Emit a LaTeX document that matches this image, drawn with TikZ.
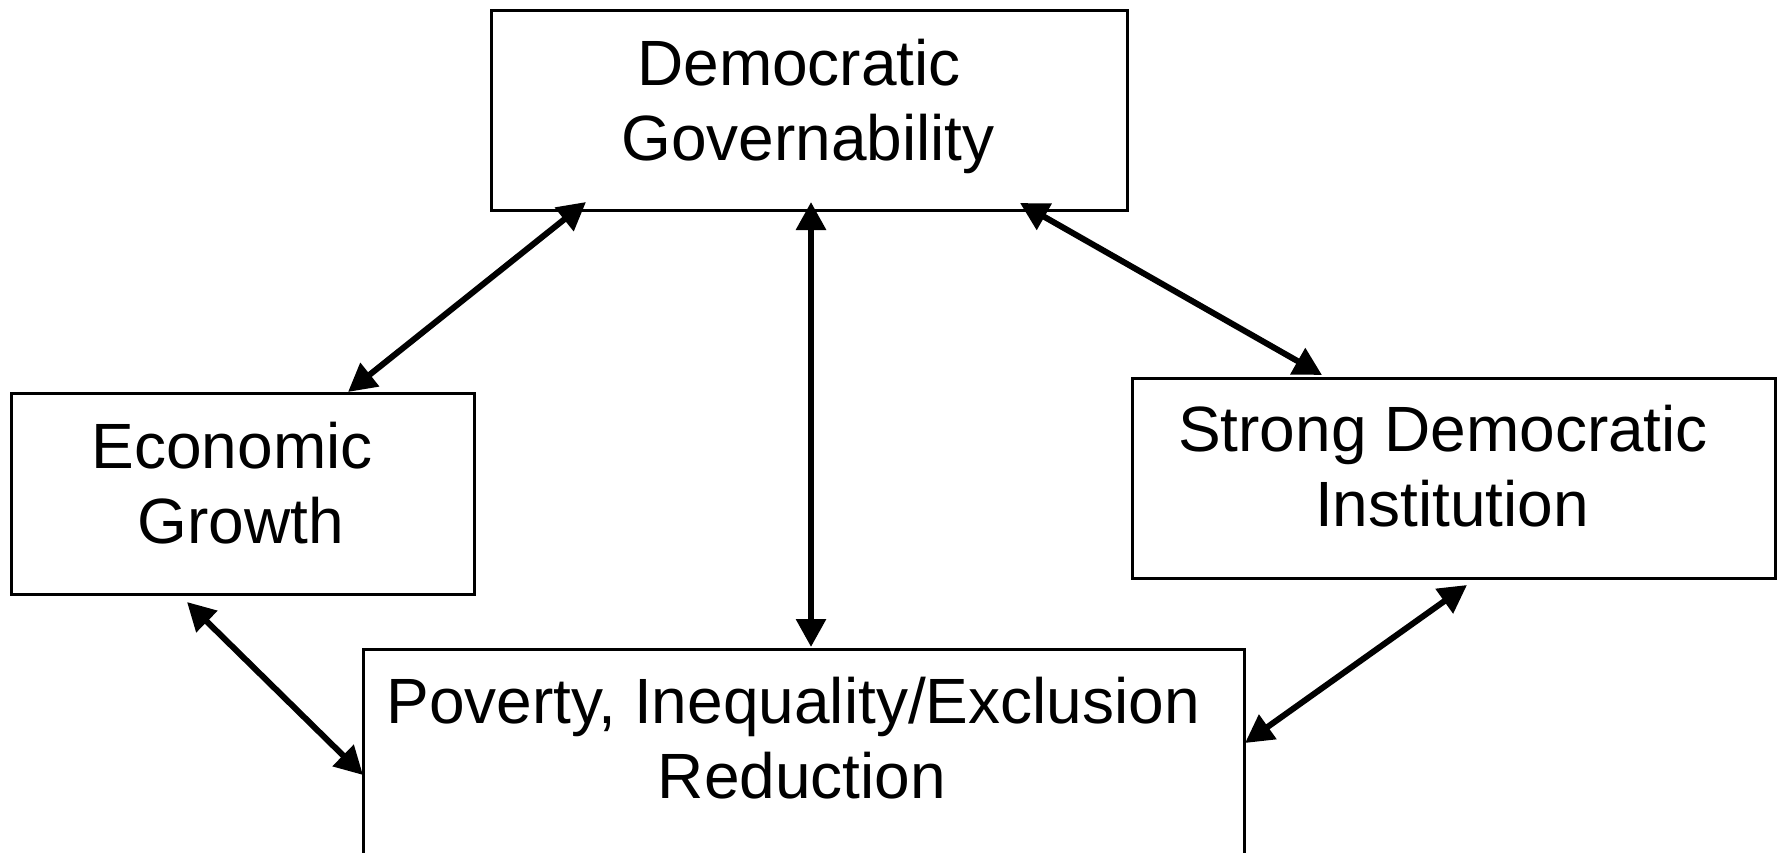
\documentclass[tikz,border=0pt]{standalone}
\usepackage{fontspec}
\setmainfont{Liberation Sans}
\usetikzlibrary{arrows.meta}
\begin{document}
\begin{tikzpicture}[x=1pt,y=-1pt,
  box/.style={draw=black,line width=2.6pt,rectangle,inner sep=0pt,anchor=north west},
  lbl/.style={align=center,inner sep=0pt,font=\fontsize{64pt}{75pt}\selectfont},
  link/.style={line width=6pt,{Triangle[length=28pt,width=29pt]}-{Triangle[length=28pt,width=29pt]}}]
\useasboundingbox (0,0) rectangle (1777,853);
\clip (0,0) rectangle (1777,853);
\fill[white] (0,0) rectangle (1777,853);

% boxes
\node[box,minimum width=636pt,minimum height=200pt] (dg) at (490,9) {};
\node[box,minimum width=463pt,minimum height=201pt] (eg) at (10,392) {};
\node[box,minimum width=643pt,minimum height=200pt] (sdi) at (1131,377) {};
\node[box,minimum width=881pt,minimum height=260pt] (pov) at (362,648) {};

% labels (each first line keeps a trailing space)
\newcommand{\tsp}{\hspace*{0.278em}}
\node[lbl] (dgt) at (808,106) {Democratic\tsp\\Governability};
\node[lbl] (egt) at (241,483) {Economic\tsp\\Growth};
\node[lbl] (sdit) at (1452,466) {Strong Democratic\tsp\\Institution};
\node[lbl] (povt) at (802,738) {Poverty, Inequality/Exclusion\tsp\\Reduction};

% arrow end points
\coordinate (dgA) at (586,202);
\coordinate (egA) at (348,392);
\coordinate (dgB) at (811,202);
\coordinate (povB) at (811,647);
\coordinate (dgC) at (1020,203);
\coordinate (sdiC) at (1322,375);
\coordinate (egD) at (187,602);
\coordinate (povD) at (363,775);
\coordinate (sdiE) at (1467,585);
\coordinate (povE) at (1245,743);

% two-way links
\draw[link] (dgA) -- (egA);
\draw[link] (dgB) -- (povB);
\draw[link] (dgC) -- (sdiC);
\draw[link] (egD) -- (povD);
\draw[link] (sdiE) -- (povE);
\end{tikzpicture}
\end{document}
